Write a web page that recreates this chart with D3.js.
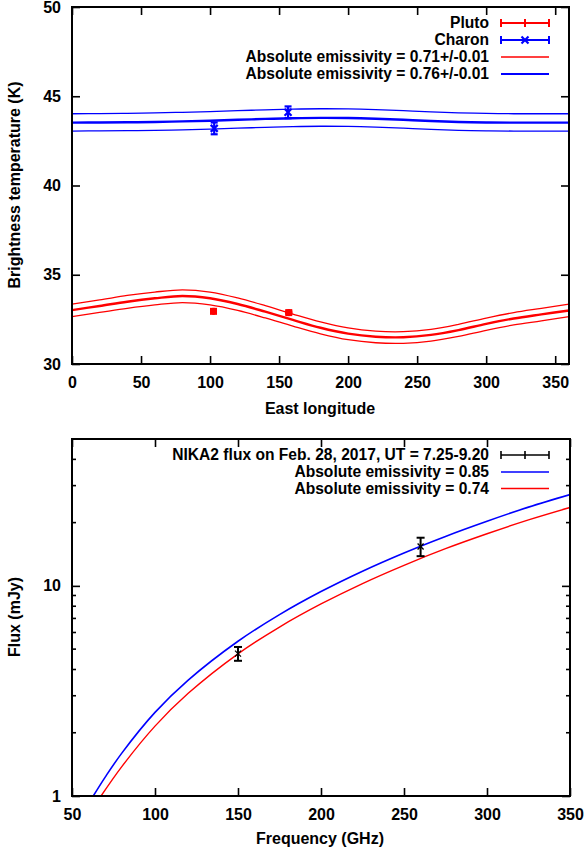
<!DOCTYPE html>
<html><head><meta charset="utf-8">
<script src="https://cdn.jsdelivr.net/npm/d3@7"></script>
<style>
html,body{margin:0;padding:0;background:#fff;}
text{font-family:"Liberation Sans",Arial,sans-serif;font-weight:bold;fill:#000;}
</style></head>
<body>
<svg id="c" width="586" height="854"></svg>
<script>
// ---------- Top panel data ----------
const lonGrid = [0,20,40,60,80,100,120,140,160,180,200,220,240,260,280,300,320,340,360];
const plutoModel      = [33.02,33.25,33.49,33.68,33.81,33.68,33.36,32.93,32.47,32.03,31.70,31.53,31.50,31.63,31.90,32.25,32.55,32.78,33.00];
const plutoModelUpper = [33.36,33.59,33.84,34.03,34.15,34.03,33.70,33.27,32.80,32.36,32.02,31.84,31.81,31.94,32.22,32.57,32.88,33.12,33.36];
const plutoModelLower = [32.66,32.89,33.12,33.31,33.44,33.31,33.00,32.58,32.12,31.69,31.36,31.19,31.16,31.28,31.55,31.89,32.19,32.42,32.66];
const charonModel      = [43.52,43.53,43.54,43.56,43.59,43.63,43.68,43.73,43.77,43.79,43.78,43.74,43.68,43.61,43.56,43.53,43.52,43.52,43.52];
const charonModelUpper = [44.02,44.03,44.04,44.07,44.10,44.14,44.19,44.24,44.28,44.30,44.29,44.25,44.19,44.12,44.07,44.04,44.02,44.02,44.02];
const charonModelLower = [43.05,43.06,43.07,43.09,43.12,43.16,43.21,43.26,43.30,43.32,43.31,43.27,43.21,43.14,43.09,43.06,43.05,43.05,43.05];
const plutoLon = [102.5, 157];
const plutoTb  = [32.95, 32.88];
const plutoErr = [0.06, 0.06];
const charonLon = [103, 156.5];
const charonTb  = [43.2, 44.1];
const charonErr = [0.33, 0.33];
const topXTicks = [0,50,100,150,200,250,300,350];
const topYTicks = [30,35,40,45,50];
const topLegend = ["Pluto","Charon","Absolute emissivity = 0.71+/-0.01","Absolute emissivity = 0.76+/-0.01"];

// ---------- Bottom panel data ----------
const freqBlue = [62.8,70,80,100,120,150,175,200,225,250,275,300,325,350];
const fluxBlue = [1.0,1.23,1.6,2.5,3.56,5.45,7.3,9.4,11.75,14.35,17.2,20.3,23.7,27.2];
const freqRed  = [67.5,80,100,120,150,175,200,225,250,275,300,325,350];
const fluxRed  = [1.0,1.38,2.15,3.08,4.75,6.37,8.2,10.26,12.53,15.03,17.7,20.6,23.6];
const nikaFreq = [150, 260];
const nikaFlux = [4.76, 15.4];
const nikaErr  = [0.36, 1.55];
const botXTicks = [50,100,150,200,250,300,350];
const botYMajor = [1,10];
const botYMinor = [2,3,4,5,6,7,8,9,20,30,40];
const botLegend = ["NIKA2 flux on Feb. 28, 2017, UT = 7.25-9.20","Absolute emissivity = 0.85","Absolute emissivity = 0.74"];

const RED = "#ff0000", BLUE = "#0000ff";
const svg = d3.select("#c");

// ---------- Top panel ----------
const L=72, R=569;
const x1 = d3.scaleLinear().domain([0,360]).range([L,R]);
const y1 = d3.scaleLinear().domain([30,50]).range([364,7]);

function frame(x, y, xt, yt, yFmt){
  const g = svg.append("g");
  const [ya, yb] = y.range();
  const bottom = Math.max(ya,yb), top = Math.min(ya,yb);
  g.append("g").attr("transform",`translate(0,${bottom})`)
    .call(d3.axisBottom(x).tickValues(xt).tickSize(-8).tickPadding(13).tickFormat(d3.format("d")));
  g.append("g").attr("transform",`translate(0,${top})`)
    .call(d3.axisTop(x).tickValues(xt).tickSize(-8).tickFormat(""));
  g.append("g").attr("transform",`translate(${L},0)`)
    .call(d3.axisLeft(y).tickValues(yt).tickSize(-8).tickPadding(11).tickFormat(yFmt));
  g.append("g").attr("transform",`translate(${x.range()[1]},0)`)
    .call(d3.axisRight(y).tickValues(yt).tickSize(-8).tickFormat(""));
  g.selectAll(".domain").remove();
  g.selectAll(".tick line").attr("stroke","#000").attr("stroke-width",1.6);
  g.selectAll(".tick text").attr("font-size",16).attr("font-family","Liberation Sans, Arial, sans-serif").attr("font-weight","bold").attr("fill","#000");
  return g;
}
function border(x,y){
  svg.append("rect").attr("x",x.range()[0]).attr("y",Math.min(...y.range()))
    .attr("width",x.range()[1]-x.range()[0]).attr("height",Math.abs(y.range()[0]-y.range()[1]))
    .attr("fill","none").attr("stroke","#000").attr("stroke-width",2);
}

frame(x1,y1,topXTicks,topYTicks,d3.format("d"));

const line1 = arr => d3.line().x((d,i)=>x1(lonGrid[i])).y(d=>y1(d)).curve(d3.curveCatmullRom)(arr);
[[plutoModelUpper,1.3],[plutoModelLower,1.3],[plutoModel,2.4]].forEach(([a,w])=>
  svg.append("path").attr("d",line1(a)).attr("fill","none").attr("stroke",RED).attr("stroke-width",w));
[[charonModelUpper,1.3],[charonModelLower,1.3],[charonModel,2.4]].forEach(([a,w])=>
  svg.append("path").attr("d",line1(a)).attr("fill","none").attr("stroke",BLUE).attr("stroke-width",w));

function errbar(g, cx, cy0, cy1, cap, color, w){
  g.append("line").attr("x1",cx).attr("x2",cx).attr("y1",cy0).attr("y2",cy1).attr("stroke",color).attr("stroke-width",w);
  [cy0,cy1].forEach(yy=>g.append("line").attr("x1",cx-cap).attr("x2",cx+cap).attr("y1",yy).attr("y2",yy).attr("stroke",color).attr("stroke-width",w));
}
function cross(g,cx,cy,s,color,w){
  g.append("line").attr("x1",cx-s).attr("x2",cx+s).attr("y1",cy-s).attr("y2",cy+s).attr("stroke",color).attr("stroke-width",w);
  g.append("line").attr("x1",cx-s).attr("x2",cx+s).attr("y1",cy+s).attr("y2",cy-s).attr("stroke",color).attr("stroke-width",w);
}
function plus(g,cx,cy,s,color,w){
  g.append("line").attr("x1",cx-s).attr("x2",cx+s).attr("y1",cy).attr("y2",cy).attr("stroke",color).attr("stroke-width",w);
  g.append("line").attr("x1",cx).attr("x2",cx).attr("y1",cy-s).attr("y2",cy+s).attr("stroke",color).attr("stroke-width",w);
}
const pts = svg.append("g");
plutoLon.forEach((d,i)=>{
  const cx=x1(d), cy=y1(plutoTb[i]);
  errbar(pts,cx,y1(plutoTb[i]-plutoErr[i]),y1(plutoTb[i]+plutoErr[i]),3.5,RED,2.5);
  plus(pts,cx,cy,3.5,RED,2.5);
  pts.append("rect").attr("x",cx-3.5).attr("y",cy-3.5).attr("width",7).attr("height",7).attr("fill",RED);
});
charonLon.forEach((d,i)=>{
  const cx=x1(d), cy=y1(charonTb[i]);
  errbar(pts,cx,y1(charonTb[i]-charonErr[i]),y1(charonTb[i]+charonErr[i]),3.5,BLUE,2.2);
  cross(pts,cx,cy,3.5,BLUE,2.2);
});

// top legend
const lg = svg.append("g");
const legY = [23,40,57,74];
topLegend.forEach((t,i)=>{
  lg.append("text").attr("x",489).attr("y",legY[i]).attr("dy","0.35em").attr("text-anchor","end").attr("font-size",15.6).text(t);
});
lg.append("line").attr("x1",501).attr("x2",549).attr("y1",legY[0]).attr("y2",legY[0]).attr("stroke",RED).attr("stroke-width",2);
[501,549].forEach(xx=>lg.append("line").attr("x1",xx).attr("x2",xx).attr("y1",legY[0]-4).attr("y2",legY[0]+4).attr("stroke",RED).attr("stroke-width",2));
plus(lg,525,legY[0],4,RED,2);
lg.append("line").attr("x1",501).attr("x2",549).attr("y1",legY[1]).attr("y2",legY[1]).attr("stroke",BLUE).attr("stroke-width",2);
[501,549].forEach(xx=>lg.append("line").attr("x1",xx).attr("x2",xx).attr("y1",legY[1]-4).attr("y2",legY[1]+4).attr("stroke",BLUE).attr("stroke-width",2));
cross(lg,525,legY[1],3.5,BLUE,2.2);
lg.append("line").attr("x1",501).attr("x2",549).attr("y1",legY[2]).attr("y2",legY[2]).attr("stroke",RED).attr("stroke-width",1.5);
lg.append("line").attr("x1",501).attr("x2",549).attr("y1",legY[3]).attr("y2",legY[3]).attr("stroke",BLUE).attr("stroke-width",2);

border(x1,y1);
svg.append("text").attr("x",320).attr("y",408).attr("dy","0.35em").attr("text-anchor","middle").attr("font-size",16).text("East longitude");
svg.append("text").attr("transform","translate(14,185) rotate(-90)").attr("dy","0.35em").attr("text-anchor","middle").attr("font-size",16).text("Brightness temperature (K)");

// ---------- Bottom panel ----------
const x2 = d3.scaleLinear().domain([50,350]).range([L,570]);
const y2 = d3.scaleLog().domain([1,50]).range([796,439]);
frame(x2,y2,botXTicks,botYMajor,d3.format("d"));
const mg = svg.append("g");
botYMinor.forEach(v=>{
  mg.append("line").attr("x1",L).attr("x2",L+4).attr("y1",y2(v)).attr("y2",y2(v)).attr("stroke","#000").attr("stroke-width",1.6);
  mg.append("line").attr("x1",570-4).attr("x2",570).attr("y1",y2(v)).attr("y2",y2(v)).attr("stroke","#000").attr("stroke-width",1.6);
});
svg.append("clipPath").attr("id","clip2").append("rect").attr("x",L).attr("y",439).attr("width",570-L).attr("height",796-439);
const line2 = (fx,fy)=> d3.line().x((d,i)=>x2(fx[i])).y(d=>y2(d)).curve(d3.curveCatmullRom)(fy);
svg.append("path").attr("d",line2(freqBlue,fluxBlue)).attr("clip-path","url(#clip2)").attr("fill","none").attr("stroke",BLUE).attr("stroke-width",1.6);
svg.append("path").attr("d",line2(freqRed,fluxRed)).attr("clip-path","url(#clip2)").attr("fill","none").attr("stroke",RED).attr("stroke-width",1.4);
const bp = svg.append("g");
nikaFreq.forEach((f,i)=>{
  const cx=x2(f), cy=y2(nikaFlux[i]);
  errbar(bp,cx,y2(nikaFlux[i]-nikaErr[i]),y2(nikaFlux[i]+nikaErr[i]),4,"#000",2);
  cross(bp,cx,cy,3,"#000",1.3);
});
const lg2 = svg.append("g");
const leg2Y = [455,472,488.5];
botLegend.forEach((t,i)=>{
  lg2.append("text").attr("x",489).attr("y",leg2Y[i]).attr("dy","0.35em").attr("text-anchor","end").attr("font-size",15.6).text(t);
});
lg2.append("line").attr("x1",501).attr("x2",549).attr("y1",leg2Y[0]).attr("y2",leg2Y[0]).attr("stroke","#000").attr("stroke-width",1.6);
[501,525,549].forEach(xx=>lg2.append("line").attr("x1",xx).attr("x2",xx).attr("y1",leg2Y[0]-4).attr("y2",leg2Y[0]+4).attr("stroke","#000").attr("stroke-width",1.6));
lg2.append("line").attr("x1",501).attr("x2",549).attr("y1",leg2Y[1]).attr("y2",leg2Y[1]).attr("stroke",BLUE).attr("stroke-width",1.6);
lg2.append("line").attr("x1",501).attr("x2",549).attr("y1",leg2Y[2]).attr("y2",leg2Y[2]).attr("stroke",RED).attr("stroke-width",1.4);
border(x2,y2);
svg.append("text").attr("x",320).attr("y",838).attr("dy","0.35em").attr("text-anchor","middle").attr("font-size",16).text("Frequency (GHz)");
svg.append("text").attr("transform","translate(14,617) rotate(-90)").attr("dy","0.35em").attr("text-anchor","middle").attr("font-size",16).text("Flux (mJy)");
</script>
</body></html>
